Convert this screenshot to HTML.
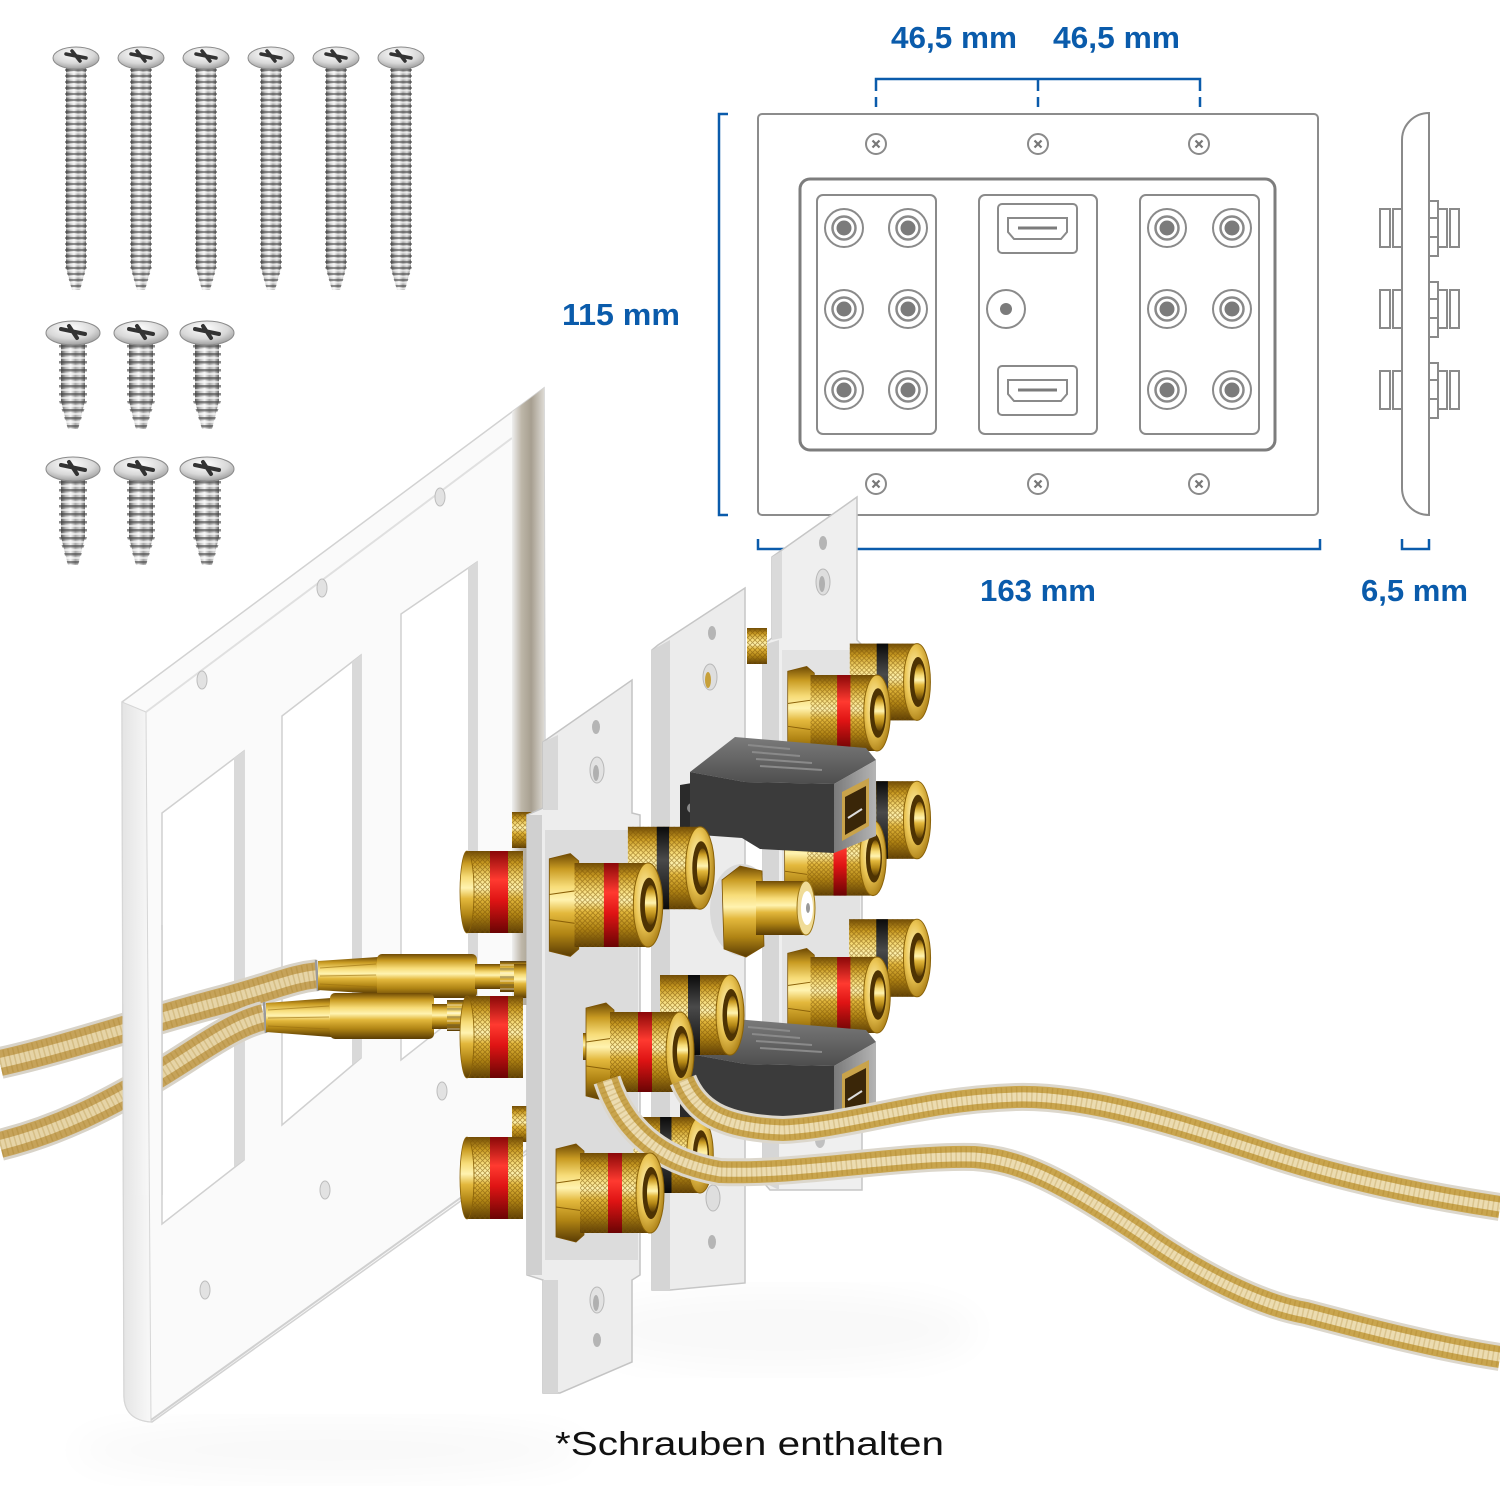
<!DOCTYPE html>
<html><head><meta charset="utf-8"><style>html,body{margin:0;padding:0;background:#fff}svg{display:block}</style></head>
<body>
<svg width="1500" height="1500" viewBox="0 0 1500 1500" xmlns="http://www.w3.org/2000/svg">
<defs>
 <linearGradient id="goldV" x1="0" y1="0" x2="0" y2="1">
  <stop offset="0" stop-color="#6e4a05"/><stop offset=".15" stop-color="#c99b22"/><stop offset=".32" stop-color="#f7dc78"/><stop offset=".45" stop-color="#fff3b0"/><stop offset=".58" stop-color="#e3b83c"/><stop offset=".78" stop-color="#b08414"/><stop offset="1" stop-color="#5a3c04"/>
 </linearGradient>
 <radialGradient id="faceG" cx=".4" cy=".4" r=".7">
  <stop offset="0" stop-color="#fff6c0"/><stop offset=".5" stop-color="#eac452"/><stop offset="1" stop-color="#a0730c"/>
 </radialGradient>
 <linearGradient id="redV" x1="0" y1="0" x2="0" y2="1">
  <stop offset="0" stop-color="#8a0808"/><stop offset=".35" stop-color="#ff3a30"/><stop offset=".6" stop-color="#df1414"/><stop offset="1" stop-color="#6a0404"/>
 </linearGradient>
 <linearGradient id="blkV" x1="0" y1="0" x2="0" y2="1">
  <stop offset="0" stop-color="#0a0a0a"/><stop offset=".4" stop-color="#4a4a4a"/><stop offset="1" stop-color="#0a0a0a"/>
 </linearGradient>
 <pattern id="knurl" width="5" height="5" patternUnits="userSpaceOnUse">
  <path d="M0,0 L5,5 M5,0 L0,5" stroke="#7a5205" stroke-width=".8" opacity=".55"/>
 </pattern>
 <linearGradient id="silverH" x1="0" y1="0" x2="1" y2="0">
  <stop offset="0" stop-color="#5d5d5d"/><stop offset=".2" stop-color="#bdbdbd"/><stop offset=".4" stop-color="#f4f4f4"/><stop offset=".6" stop-color="#a9a9a9"/><stop offset=".8" stop-color="#d8d8d8"/><stop offset="1" stop-color="#6a6a6a"/>
 </linearGradient>
 <radialGradient id="headG" cx=".45" cy=".3" r=".8">
  <stop offset="0" stop-color="#ffffff"/><stop offset=".55" stop-color="#d8d8d8"/><stop offset="1" stop-color="#8a8a8a"/>
 </radialGradient>
 <pattern id="thread" width="30" height="6" patternUnits="userSpaceOnUse">
  <rect x="0" y="0" width="30" height="2" fill="#3e3e3e" opacity=".55"/><rect x="0" y="3" width="30" height="1.5" fill="#fff" opacity=".6"/>
 </pattern>
 <pattern id="threadS" width="40" height="8" patternUnits="userSpaceOnUse">
  <rect x="0" y="0" width="40" height="2.5" fill="#3e3e3e" opacity=".6"/><rect x="0" y="4" width="40" height="2" fill="#fff" opacity=".6"/>
 </pattern>
 <linearGradient id="rimR" x1="0" y1="0" x2="1" y2="0">
  <stop offset="0" stop-color="#efefef"/><stop offset=".3" stop-color="#bdb6a8"/><stop offset=".6" stop-color="#a79f90"/><stop offset="1" stop-color="#dcd9d3"/>
 </linearGradient>
 <linearGradient id="rimL" x1="0" y1="0" x2="1" y2="0">
  <stop offset="0" stop-color="#e4e4e4"/><stop offset="1" stop-color="#f8f8f8"/>
 </linearGradient>
 <linearGradient id="hdTop" x1="0" y1="0" x2="0" y2="1">
  <stop offset="0" stop-color="#7a7a7a"/><stop offset="1" stop-color="#4e4e4e"/>
 </linearGradient>
 <linearGradient id="hdEnd" x1="0" y1="0" x2="1" y2="0">
  <stop offset="0" stop-color="#7a7a7a"/><stop offset="1" stop-color="#b5b5b5"/>
 </linearGradient>
 <filter id="blur"><feGaussianBlur stdDeviation="18"/></filter>

 <g id="lscrew">
  <polygon points="-10,20 10,20 10,222 4,245 -4,245 -10,222" fill="url(#silverH)"/>
  <polygon points="-11,22 11,22 11,222 4,245 -4,245 -11,222" fill="url(#thread)"/>
  <ellipse cx="0" cy="13" rx="23" ry="11" fill="url(#headG)" stroke="#8a8a8a" stroke-width="1"/>
  <path d="M-10,9 L10,13 M-4,6 L4,16" stroke="#333" stroke-width="3.5" stroke-linecap="round"/>
 </g>
 <g id="sscrew">
  <polygon points="-12,20 12,20 12,80 5,108 -5,108 -12,80" fill="url(#silverH)"/>
  <polygon points="-14,22 14,22 14,80 5,108 -5,108 -14,80" fill="url(#threadS)"/>
  <ellipse cx="0" cy="12" rx="27" ry="12" fill="url(#headG)" stroke="#8a8a8a" stroke-width="1"/>
  <path d="M-12,8 L12,13 M-4,5 L4,17" stroke="#333" stroke-width="4" stroke-linecap="round"/>
 </g>

 <g id="jack">
  <circle r="19" fill="#fff" stroke="#8a8a8a" stroke-width="2"/>
  <circle r="11.5" fill="none" stroke="#8a8a8a" stroke-width="2.5"/>
  <circle r="7.5" fill="#7b7b7b"/>
 </g>
 <g id="shole">
  <circle r="10" fill="#fff" stroke="#8a8a8a" stroke-width="2"/>
  <path d="M-3.5,-3.5 L3.5,3.5 M3.5,-3.5 L-3.5,3.5" stroke="#777" stroke-width="2.2"/>
 </g>
 <g id="sidegrp">
  <rect x="1380" y="0" width="10" height="38" fill="#fff" stroke="#8a8a8a" stroke-width="2"/>
  <rect x="1393" y="0" width="9" height="38" fill="#fff" stroke="#8a8a8a" stroke-width="2"/>
  <rect x="1429" y="-8" width="9" height="55" fill="#fff" stroke="#8a8a8a" stroke-width="2"/>
  <path d="M1429,9 H1438 M1429,28 H1438" stroke="#8a8a8a" stroke-width="2"/>
  <rect x="1438" y="0" width="9" height="38" fill="#fff" stroke="#8a8a8a" stroke-width="2"/>
  <rect x="1450" y="0" width="9" height="38" fill="#fff" stroke="#8a8a8a" stroke-width="2"/>
 </g>

 <g id="nut">
  <polygon points="-94,-44 -74,-49 -66,-42 -66,42 -74,49 -94,44" fill="url(#goldV)" stroke="#7a5205" stroke-width=".8"/>
  <path d="M-94,-10 L-66,-14 M-94,14 L-66,18" stroke="#8a6008" stroke-width="1"/>
 </g>
 <g id="body">
  <rect x="-70" y="-40" width="70" height="80" fill="url(#goldV)"/>
  <rect x="-70" y="-40" width="70" height="80" fill="url(#knurl)"/>
 </g>
 <g id="face">
  <ellipse cx="0" cy="0" rx="14" ry="40" fill="url(#faceG)" stroke="#8a6208" stroke-width="1"/>
  <ellipse cx="1" cy="0" rx="8.5" ry="26" fill="#4e3303"/>
  <ellipse cx="2.5" cy="0" rx="5.5" ry="19" fill="url(#goldV)"/>
 </g>
 <g id="postR"><use href="#body"/><rect x="-42" y="-40" width="14" height="80" fill="url(#redV)"/><use href="#face"/></g>
 <g id="postB"><use href="#body"/><rect x="-42" y="-40" width="12" height="80" fill="url(#blkV)"/><use href="#face"/></g>
 <g id="postRN"><use href="#nut"/><use href="#postR"/></g>
 <g id="postSide">
  <rect x="-28" y="-41" width="56" height="82" fill="url(#goldV)"/>
  <rect x="-28" y="-41" width="56" height="82" fill="url(#knurl)"/>
  <ellipse cx="-28" cy="0" rx="7" ry="41" fill="url(#goldV)" stroke="#8a6208" stroke-width=".8"/>
  <rect x="-5" y="-41" width="18" height="82" fill="url(#redV)"/>
 </g>

 <g id="hdmi">
  <polygon points="680,785 704,781 704,836 680,839" fill="#2a2a2a"/>
  <circle cx="692" cy="808" r="5" fill="#888"/>
  <polygon points="690,772 735,737 866,748 876,760 834,784 745,782" fill="url(#hdTop)"/>
  <path d="M748,745 L790,749 M752,752 L800,756 M756,759 L812,763 M760,766 L822,770" stroke="#8a8a8a" stroke-width="2"/>
  <polygon points="690,772 745,782 834,784 834,853 760,849 742,838 700,835 690,830" fill="#3b3b3b"/>
  <polygon points="834,784 876,760 876,836 834,853" fill="url(#hdEnd)"/>
  <polygon points="842,792 869,778 869,826 842,841" fill="#c9a34a"/>
  <polygon points="845,797 866,786 866,823 845,835" fill="#3a2608"/>
  <line x1="848" y1="818" x2="862" y2="809" stroke="#ddd" stroke-width="2"/>
 </g>

 <g id="cableL1">
  <path d="M0,1063 C60,1050 150,1020 214,1003 S290,978 318,975" stroke="#d8d3c8" stroke-width="32"/>
  <path d="M0,1063 C60,1050 150,1020 214,1003 S290,978 318,975" stroke="#c6a35a" stroke-width="26"/>
  <path d="M0,1063 C60,1050 150,1020 214,1003 S290,978 318,975" stroke="#e6d4a6" stroke-width="10"/>
  <path d="M0,1063 C60,1050 150,1020 214,1003 S290,978 318,975" stroke="#9c7418" stroke-width="24" stroke-dasharray="1.5 3.5" opacity=".22"/>
 </g>
 <g id="cableL2">
  <path d="M0,1145 C60,1130 107,1105 150,1080 S230,1025 264,1017" stroke="#d8d3c8" stroke-width="32"/>
  <path d="M0,1145 C60,1130 107,1105 150,1080 S230,1025 264,1017" stroke="#c6a35a" stroke-width="26"/>
  <path d="M0,1145 C60,1130 107,1105 150,1080 S230,1025 264,1017" stroke="#e6d4a6" stroke-width="10"/>
  <path d="M0,1145 C60,1130 107,1105 150,1080 S230,1025 264,1017" stroke="#9c7418" stroke-width="24" stroke-dasharray="1.5 3.5" opacity=".22"/>
 </g>
</defs>

<rect width="1500" height="1500" fill="#fff"/>

<!-- SCREWS -->
<use href="#lscrew" transform="translate(76,45)"/>
<use href="#lscrew" transform="translate(141,45)"/>
<use href="#lscrew" transform="translate(206,45)"/>
<use href="#lscrew" transform="translate(271,45)"/>
<use href="#lscrew" transform="translate(336,45)"/>
<use href="#lscrew" transform="translate(401,45)"/>
<use href="#sscrew" transform="translate(73,321)"/>
<use href="#sscrew" transform="translate(141,321)"/>
<use href="#sscrew" transform="translate(207,321)"/>
<use href="#sscrew" transform="translate(73,457)"/>
<use href="#sscrew" transform="translate(141,457)"/>
<use href="#sscrew" transform="translate(207,457)"/>

<!-- DIAGRAM -->
<g font-family="'Liberation Sans', sans-serif" font-weight="bold" font-size="31" fill="#0a5bab">
 <text x="891" y="48" textLength="126" lengthAdjust="spacingAndGlyphs">46,5 mm</text>
 <text x="1053" y="48" textLength="127" lengthAdjust="spacingAndGlyphs">46,5 mm</text>
 <text x="562" y="325" textLength="118" lengthAdjust="spacingAndGlyphs">115 mm</text>
 <text x="980" y="601" textLength="116" lengthAdjust="spacingAndGlyphs">163 mm</text>
 <text x="1361" y="601" textLength="107" lengthAdjust="spacingAndGlyphs">6,5 mm</text>
</g>
<g fill="none" stroke="#0a5bab" stroke-width="2.5">
 <path d="M876,91 V79 H1200 V91 M1038,79 V91"/>
 <path d="M876,97 V107 M876,113 V125 M1038,97 V107 M1038,113 V125 M1200,97 V107 M1200,113 V125"/>
 <path d="M728,114 H719 V515 H728"/>
 <path d="M758,539 V549 H1320 V539"/>
 <path d="M1402,539 V549 H1429 V539"/>
</g>
<rect x="758" y="114" width="560" height="401" rx="4" fill="#fff" stroke="#8c8c8c" stroke-width="2"/>
<use href="#shole" transform="translate(876,144)"/>
<use href="#shole" transform="translate(1038,144)"/>
<use href="#shole" transform="translate(1199,144)"/>
<use href="#shole" transform="translate(876,484)"/>
<use href="#shole" transform="translate(1038,484)"/>
<use href="#shole" transform="translate(1199,484)"/>
<rect x="800" y="179" width="475" height="271" rx="10" fill="#fff" stroke="#7d7d7d" stroke-width="3"/>
<g fill="#fff" stroke="#8a8a8a" stroke-width="2">
 <rect x="817" y="195" width="119" height="239" rx="6"/>
 <rect x="979" y="195" width="118" height="239" rx="6"/>
 <rect x="1140" y="195" width="119" height="239" rx="6"/>
 <rect x="998" y="204" width="79" height="49" rx="4"/>
 <rect x="998" y="366" width="79" height="49" rx="4"/>
 <path d="M1008,218 H1067 V232 L1061,239 H1014 L1008,232 Z"/>
 <path d="M1008,380 H1067 V394 L1061,401 H1014 L1008,394 Z"/>
 <circle cx="1006" cy="309" r="19"/>
</g>
<path d="M1018,228 H1057 M1018,390 H1057" stroke="#7b7b7b" stroke-width="3"/>
<circle cx="1006" cy="309" r="6" fill="#7b7b7b"/>
<use href="#jack" transform="translate(844,228)"/><use href="#jack" transform="translate(908,228)"/>
<use href="#jack" transform="translate(844,309)"/><use href="#jack" transform="translate(908,309)"/>
<use href="#jack" transform="translate(844,390)"/><use href="#jack" transform="translate(908,390)"/>
<use href="#jack" transform="translate(1167,228)"/><use href="#jack" transform="translate(1232,228)"/>
<use href="#jack" transform="translate(1167,309)"/><use href="#jack" transform="translate(1232,309)"/>
<use href="#jack" transform="translate(1167,390)"/><use href="#jack" transform="translate(1232,390)"/>
<use href="#sidegrp" transform="translate(0,209)"/>
<use href="#sidegrp" transform="translate(0,290)"/>
<use href="#sidegrp" transform="translate(0,371)"/>
<path d="M1429,113 V515 C1414,515 1402,503 1402,488 V140 C1402,125 1414,113 1429,113 Z" fill="#fff" stroke="#8a8a8a" stroke-width="2"/>

<!-- PHOTO -->
<ellipse cx="330" cy="1450" rx="260" ry="30" fill="#000" opacity=".025" filter="url(#blur)"/>
<ellipse cx="780" cy="1330" rx="200" ry="40" fill="#000" opacity=".025" filter="url(#blur)"/>

<!-- big wall plate -->
<path d="M122,702 L544,388 L546,1140 L152,1422 Q124,1420 124,1395 Z" fill="#fafafa" stroke="#d2d2d2" stroke-width="1.5"/>
<path d="M122,702 L146,712 L151,1422 Q124,1420 124,1395 Z" fill="url(#rimL)" stroke="#d6d6d6" stroke-width="1"/>
<path d="M146,712 L512,438" stroke="#e0e0e0" stroke-width="2"/>
<path d="M151,1420 L530,1148" stroke="#d0d0d0" stroke-width="2"/>
<polygon points="512,412 544,388 544,1005 512,1005" fill="url(#rimR)"/>
<g stroke="#d0d0d0" stroke-width="1.5">
 <polygon points="162,813 244,751 244,1160 162,1224" fill="#fff"/>
 <polygon points="282,716 361,655 361,1058 282,1125" fill="#fff"/>
 <polygon points="401,614 477,562 477,1000 401,1060" fill="#fff"/>
</g>
<polygon points="234,758 244,751 244,1160 234,1167" fill="#d9d9d9"/>
<polygon points="352,662 361,655 361,1058 352,1065" fill="#d9d9d9"/>
<polygon points="468,568 477,562 477,1000 468,1007" fill="#d9d9d9"/>
<g fill="#e2e2e2" stroke="#bdbdbd" stroke-width="1">
 <ellipse cx="202" cy="680" rx="5" ry="9"/><ellipse cx="322" cy="588" rx="5" ry="9"/><ellipse cx="440" cy="497" rx="5" ry="9"/>
 <ellipse cx="205" cy="1290" rx="5" ry="9"/><ellipse cx="325" cy="1190" rx="5" ry="9"/><ellipse cx="442" cy="1091" rx="5" ry="9"/>
</g>

<!-- left cables -->
<g fill="none">
 <use href="#cableL1"/>
 <use href="#cableL2"/>
</g>
<!-- plate rim passes over the cables (aligned with rim edges) -->
<polygon points="122.7,930 147.5,930 149.4,1195 123.4,1195" fill="url(#rimL)"/>
<polygon points="147.5,930 162,930 162,1195 149.4,1195" fill="#fafafa"/>
<path d="M122.7,930 L123.4,1195" stroke="#d6d6d6" stroke-width="1"/>
<path d="M147.5,930 L149.4,1195" stroke="#d6d6d6" stroke-width="1"/>
<path d="M162,925 V1195" stroke="#d0d0d0" stroke-width="1.5"/>
<!-- jacket end rings -->
<path d="M316,960 L318,991 M264,1002 L266,1033" stroke="#9a9a9a" stroke-width="2.5"/>
<!-- bare wires -->
<polygon points="318,961 378,957 378,994 318,990" fill="url(#goldV)"/>
<polygon points="266,1003 331,998 331,1037 266,1032" fill="url(#goldV)"/>
<path d="M320,968 L376,964 M320,976 L376,975 M320,984 L376,987 M268,1010 L329,1006 M268,1018 L329,1017 M268,1026 L329,1029" stroke="#9a7010" stroke-width="1" opacity=".6"/>
<!-- banana plugs -->
<rect x="377" y="954" width="100" height="44" rx="5" fill="url(#goldV)"/>
<rect x="475" y="964" width="28" height="25" fill="url(#goldV)"/>
<rect x="500" y="961" width="28" height="31" fill="url(#goldV)"/>
<rect x="500" y="961" width="28" height="31" fill="url(#threadS)" opacity=".5"/>
<rect x="330" y="993" width="104" height="46" rx="5" fill="url(#goldV)"/>
<rect x="432" y="1004" width="20" height="25" fill="url(#goldV)"/>
<rect x="447" y="1000" width="24" height="31" fill="url(#goldV)"/>
<rect x="447" y="1000" width="24" height="31" fill="url(#threadS)" opacity=".5"/>

<rect x="512" y="812" width="26" height="36" fill="url(#goldV)"/><rect x="512" y="812" width="26" height="36" fill="url(#knurl)"/>
<rect x="514" y="964" width="24" height="34" fill="url(#goldV)"/>
<rect x="512" y="1106" width="26" height="36" fill="url(#goldV)"/><rect x="512" y="1106" width="26" height="36" fill="url(#knurl)"/>
<use href="#postSide" transform="translate(495,892)"/>
<use href="#postSide" transform="translate(495,1037)"/>
<use href="#postSide" transform="translate(495,1178)"/>

<!-- Right module M3 -->
<polygon points="772,557 857,497 857,640 862,645 862,1190 770,1190 763,1182 763,645 772,638" fill="#efefef" stroke="#c6c6c6" stroke-width="1.5"/>
<polygon points="772,557 782,551 782,638 772,640" fill="#dadada"/>
<polygon points="763,645 779,640 779,1190 763,1182" fill="#d6d6d6"/>
<rect x="782" y="650" width="78" height="400" fill="#e3e3e3"/>
<ellipse cx="823" cy="543" rx="4" ry="7" fill="#b5b5b5"/>
<ellipse cx="823" cy="582" rx="7" ry="13" fill="#dedede" stroke="#b8b8b8"/>
<ellipse cx="822" cy="584" rx="3" ry="8" fill="#b0b0b0"/>
<ellipse cx="820" cy="1140" rx="5" ry="8" fill="#c0c0c0"/>
<rect x="747" y="628" width="20" height="36" fill="url(#goldV)"/><rect x="747" y="628" width="20" height="36" fill="url(#knurl)"/>
<use href="#postB" transform="translate(917,682) scale(.96)"/>
<use href="#postRN" transform="translate(877,713) scale(.95)"/>
<use href="#postB" transform="translate(917,820) scale(.97)"/>
<use href="#postRN" transform="translate(873,858) scale(.94)"/>
<use href="#postB" transform="translate(917,958) scale(.97)"/>
<use href="#postRN" transform="translate(877,995) scale(.95)"/>

<!-- Middle module M2 -->
<polygon points="658,645 745,588 745,1283 670,1290 652,1290 652,650" fill="#ececec" stroke="#c6c6c6" stroke-width="1.5"/>
<polygon points="652,650 670,640 670,1290 652,1290" fill="#d5d5d5"/>
<ellipse cx="712" cy="633" rx="4" ry="7" fill="#b5b5b5"/>
<ellipse cx="710" cy="677" rx="7" ry="13" fill="#dedede" stroke="#b8b8b8"/>
<ellipse cx="708" cy="680" rx="3" ry="8" fill="#c7a03a"/>
<ellipse cx="713" cy="1198" rx="7" ry="13" fill="#dedede" stroke="#b8b8b8"/>
<ellipse cx="712" cy="1242" rx="4" ry="7" fill="#b5b5b5"/>
<ellipse cx="742" cy="910" rx="32" ry="46" fill="#d9d9d9"/>
<polygon points="722,880 740,866 762,871 764,946 746,957 724,949" fill="url(#goldV)" stroke="#7a5205" stroke-width=".8"/>
<rect x="756" y="881" width="50" height="54" fill="url(#goldV)"/>
<ellipse cx="806" cy="908" rx="9" ry="27" fill="#f0dc98" stroke="#a07a18"/>
<ellipse cx="807" cy="908" rx="6" ry="17" fill="#fff"/>
<ellipse cx="808" cy="908" rx="2" ry="5" fill="#999"/>
<use href="#hdmi"/>
<use href="#hdmi" transform="translate(0,282)"/>

<!-- Front module M1 -->
<polygon points="543,742 632,680 632,813 640,815 640,1275 632,1280 632,1362 560,1393 543,1393 543,1280 527,1275 527,815 543,808" fill="#ededed" stroke="#c4c4c4" stroke-width="1.5"/>
<polygon points="543,742 558,735 558,810 543,810" fill="#d8d8d8"/>
<rect x="527" y="815" width="15" height="460" fill="#d0d0d0"/>
<rect x="543" y="1280" width="15" height="113" fill="#d6d6d6"/>
<rect x="545" y="830" width="93" height="430" fill="#dcdcdc"/>
<ellipse cx="596" cy="727" rx="4" ry="7" fill="#b5b5b5"/>
<ellipse cx="597" cy="770" rx="7" ry="13" fill="#e2e2e2" stroke="#b8b8b8"/>
<ellipse cx="596" cy="773" rx="3" ry="8" fill="#b0b0b0"/>
<ellipse cx="597" cy="1300" rx="7" ry="13" fill="#e2e2e2" stroke="#b8b8b8"/>
<ellipse cx="596" cy="1303" rx="3" ry="8" fill="#b0b0b0"/>
<ellipse cx="597" cy="1340" rx="4" ry="7" fill="#b5b5b5"/>
<use href="#postB" transform="translate(700,868) scale(1.03)"/>
<use href="#postRN" transform="translate(648,905) scale(1.05)"/>
<use href="#postB" transform="translate(730,1015) scale(1.0)"/>
<rect x="583" y="1033" width="40" height="27" fill="url(#goldV)"/>
<use href="#postRN" transform="translate(680,1052) scale(1.0)"/>
<use href="#postB" transform="translate(700,1155) scale(.95)"/>

<!-- right cables -->
<g fill="none">
 <path d="M683,1080 C695,1110 720,1128 783,1130 C850,1127 920,1100 1016,1097 C1090,1095 1180,1125 1265,1153 C1340,1178 1420,1195 1500,1207" stroke="#dcd7cc" stroke-width="28"/>
 <path d="M683,1080 C695,1110 720,1128 783,1130 C850,1127 920,1100 1016,1097 C1090,1095 1180,1125 1265,1153 C1340,1178 1420,1195 1500,1207" stroke="#c9a54e" stroke-width="22"/>
 <path d="M683,1080 C695,1110 720,1128 783,1130 C850,1127 920,1100 1016,1097 C1090,1095 1180,1125 1265,1153 C1340,1178 1420,1195 1500,1207" stroke="#ecdcb0" stroke-width="9"/>
 <path d="M683,1080 C695,1110 720,1128 783,1130 C850,1127 920,1100 1016,1097 C1090,1095 1180,1125 1265,1153 C1340,1178 1420,1195 1500,1207" stroke="#9c7418" stroke-width="20" stroke-dasharray="1.5 3.5" opacity=".22"/>
 <path d="M607,1080 C620,1120 650,1160 720,1172 C800,1175 900,1155 974,1157 C1020,1160 1060,1180 1140,1233 C1200,1275 1260,1305 1306,1313 C1370,1330 1440,1348 1500,1357" stroke="#dcd7cc" stroke-width="28"/>
 <path d="M607,1080 C620,1120 650,1160 720,1172 C800,1175 900,1155 974,1157 C1020,1160 1060,1180 1140,1233 C1200,1275 1260,1305 1306,1313 C1370,1330 1440,1348 1500,1357" stroke="#c9a54e" stroke-width="22"/>
 <path d="M607,1080 C620,1120 650,1160 720,1172 C800,1175 900,1155 974,1157 C1020,1160 1060,1180 1140,1233 C1200,1275 1260,1305 1306,1313 C1370,1330 1440,1348 1500,1357" stroke="#ecdcb0" stroke-width="9"/>
 <path d="M607,1080 C620,1120 650,1160 720,1172 C800,1175 900,1155 974,1157 C1020,1160 1060,1180 1140,1233 C1200,1275 1260,1305 1306,1313 C1370,1330 1440,1348 1500,1357" stroke="#9c7418" stroke-width="20" stroke-dasharray="1.5 3.5" opacity=".22"/>
</g>
<use href="#postRN" transform="translate(650,1193) scale(1.0)"/>

<text x="555" y="1455" font-family="'Liberation Sans', sans-serif" font-size="33" fill="#111" textLength="389" lengthAdjust="spacingAndGlyphs">*Schrauben enthalten</text>
</svg>
</body></html>
